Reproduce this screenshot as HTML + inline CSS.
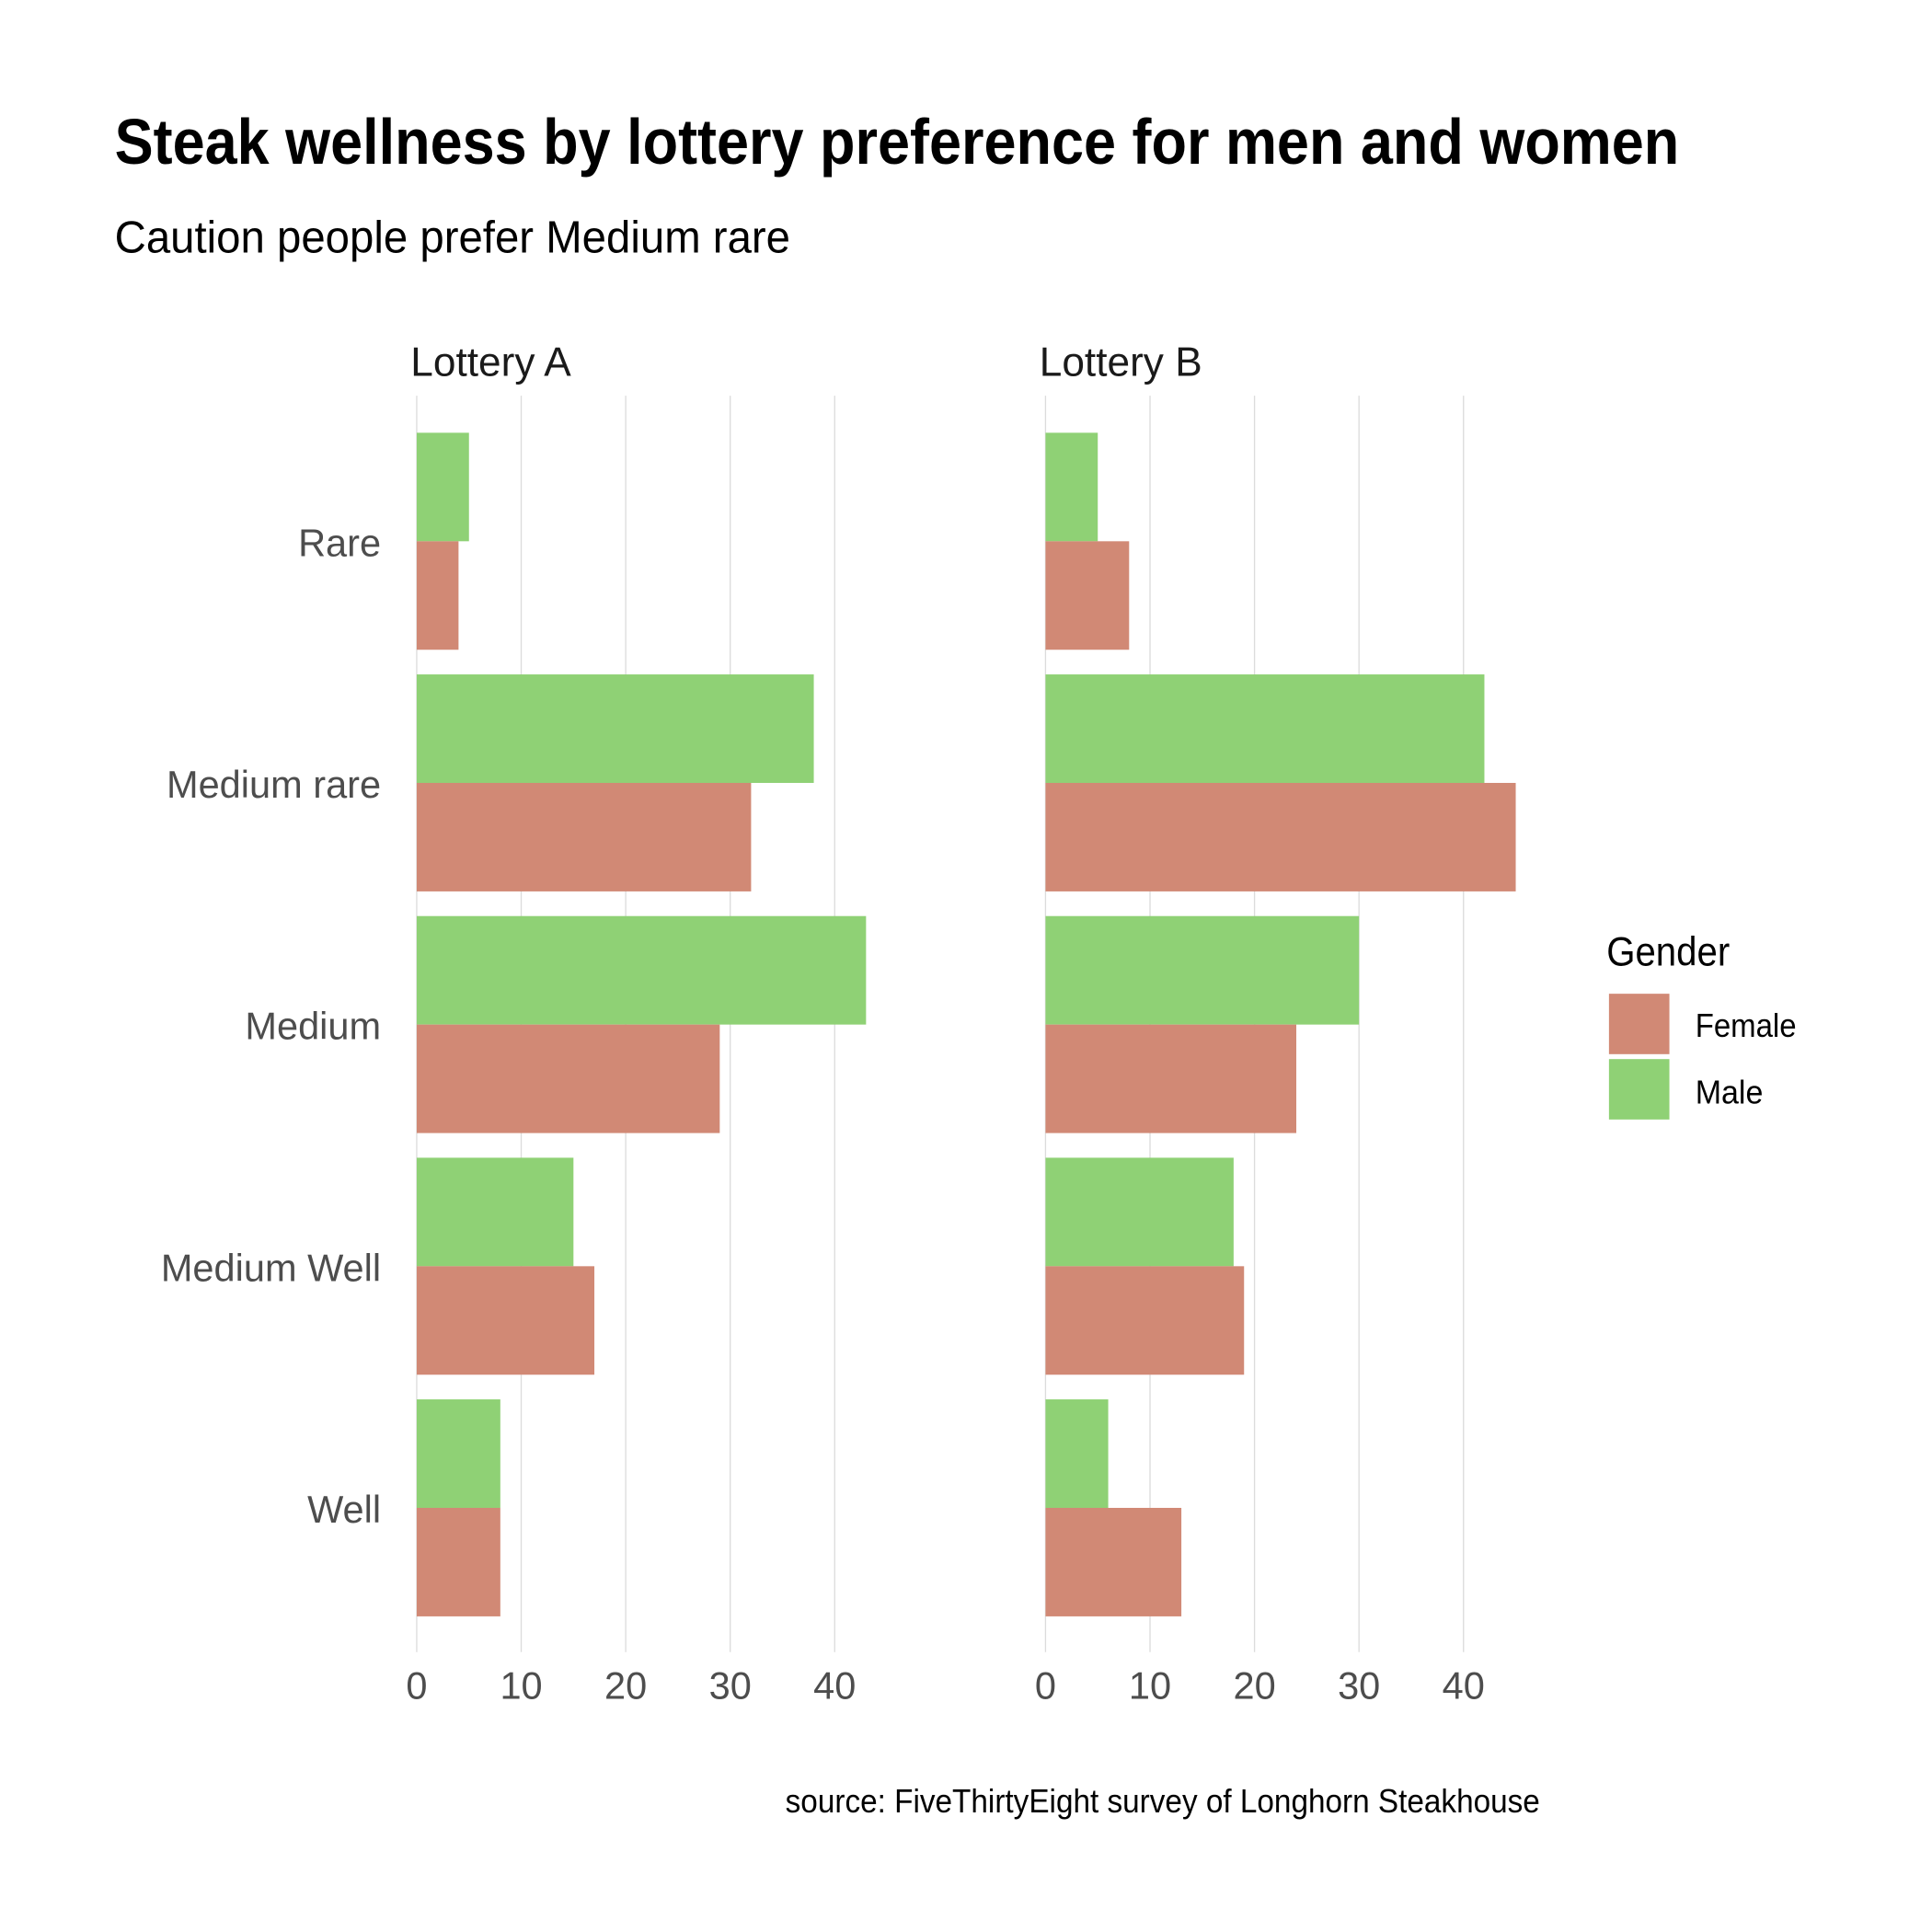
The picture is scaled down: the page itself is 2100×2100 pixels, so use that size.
<!DOCTYPE html>
<html><head><meta charset="utf-8"><style>
html,body{margin:0;padding:0;background:#fff;}
svg{display:block;}
text{font-family:"Liberation Sans",sans-serif;}
</style></head><body>
<svg id="chart" width="2100" height="2100" viewBox="0 0 1567 1567" xmlns="http://www.w3.org/2000/svg">
<rect width="1567" height="1567" fill="#fff"/>
<text x="93" y="133" font-size="52" font-weight="bold" textLength="1269" lengthAdjust="spacingAndGlyphs" fill="#000">Steak wellness by lottery preference for men and women</text>
<text x="93" y="205" font-size="37" textLength="548" lengthAdjust="spacingAndGlyphs" fill="#000">Caution people prefer Medium rare</text>
<g id="plot"></g>
<text x="1303" y="783" font-size="33" textLength="100" lengthAdjust="spacingAndGlyphs" fill="#000">Gender</text>
<rect x="1305" y="806" width="49" height="49" fill="#d18975"/>
<rect x="1305" y="859" width="49" height="49" fill="#8fd175"/>
<text x="1375" y="841" font-size="27" textLength="82" lengthAdjust="spacingAndGlyphs" fill="#000">Female</text>
<text x="1375" y="895" font-size="27" textLength="55" lengthAdjust="spacingAndGlyphs" fill="#000">Male</text>
<text x="1249" y="1470" font-size="27" text-anchor="end" textLength="612" lengthAdjust="spacingAndGlyphs" fill="#000">source: FiveThirtyEight survey of Longhorn Steakhouse</text>
</svg>
<script>
const categories = ["Rare","Medium rare","Medium","Medium Well","Well"];
const panels = ["Lottery A","Lottery B"];
const maleA = [5,38,43,15,8];
const femaleA = [4,32,29,17,8];
const maleB = [5,42,30,18,6];
const femaleB = [8,45,24,19,13];
const xTicks = [0,10,20,30,40];

const NS="http://www.w3.org/2000/svg";
const plot=document.getElementById('plot');
const panelX0=[338,848];
const unit=8.475;
const top0=351, step=196, barH=88;
function xs(p,v){return panelX0[p]+v*unit;}
function yc(i){return top0+i*step;}
function mk(tag,attrs){const e=document.createElementNS(NS,tag);for(const k in attrs)e.setAttribute(k,attrs[k]);plot.appendChild(e);return e;}
const males=[maleA,maleB], females=[femaleA,femaleB];
for(let p=0;p<2;p++){
  xTicks.forEach(t=>{
    const g=mk('line',{x1:xs(p,t),x2:xs(p,t),y1:321,y2:1340,stroke:'#dcdcdc','stroke-width':1});
    
    
    const lb=mk('text',{x:xs(p,t),y:1378,'font-size':31,'text-anchor':'middle',fill:'#4d4d4d'});
    lb.textContent=t;
    
    
  });
  const pl=mk('text',{x:panelX0[p]-5,y:305,'font-size':33,fill:'#1a1a1a'});
  pl.textContent=panels[p];
  
  
  categories.forEach((c,i)=>{
    const m=mk('rect',{x:xs(p,0),y:yc(i),width:xs(p,males[p][i])-xs(p,0),height:barH,fill:'#8fd175'});
    
    
    const f=mk('rect',{x:xs(p,0),y:yc(i)+barH,width:xs(p,females[p][i])-xs(p,0),height:barH,fill:'#d18975'});
    
    
  });
}
categories.forEach((c,i)=>{
  const t=mk('text',{x:309,y:yc(i)+barH+12,'font-size':31,'text-anchor':'end',fill:'#4d4d4d'});
  t.textContent=c;
  
  
});
</script>
</body></html>
